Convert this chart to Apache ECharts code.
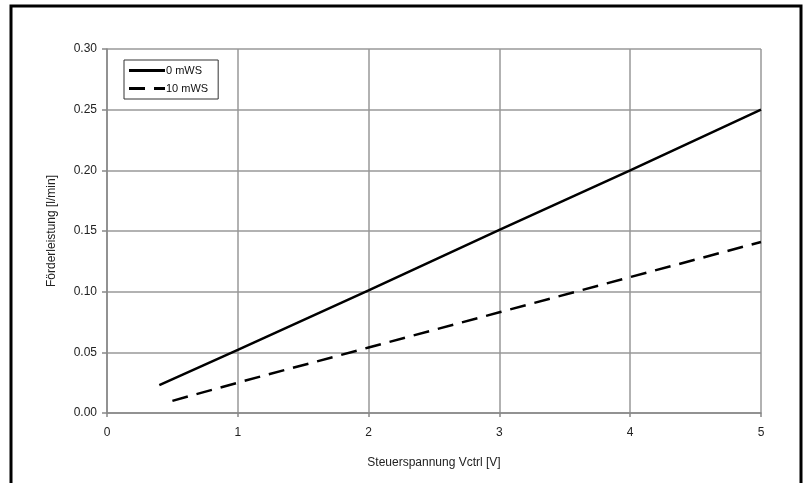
<!DOCTYPE html>
<html>
<head>
<meta charset="utf-8">
<script src="https://cdn.jsdelivr.net/npm/echarts@6/dist/echarts.min.js"></script>
<style>
  html, body { margin: 0; padding: 0; background: #fff; }
  #chart { width: 803px; height: 483px; }
</style>
</head>
<body>
<div id="chart"></div>
<script>
const seriesNames = ["0 mWS", "10 mWS"];
const voltage0 = [0.4, 1, 2, 3, 4, 5];
const flow0 = [0.023, 0.052, 0.101, 0.151, 0.200, 0.250];
const voltage10 = [0.5, 1, 2, 3, 4, 5];
const flow10 = [0.010, 0.025, 0.054, 0.083, 0.112, 0.141];

const pairs = (xs, ys) => xs.map((x, i) => [x, ys[i]]);

const myChart = echarts.init(document.getElementById("chart"));
const font = "Liberation Sans, Arial, sans-serif";

myChart.setOption({
  animation: false,
  grid: { left: 107, right: 42, top: 49, bottom: 70 },
  // Rahmen um das Bild
  graphic: [
    {
      type: "rect",
      shape: { x: 11, y: 6, width: 790, height: 490 },
      style: { fill: "none", stroke: "#000", lineWidth: 3 },
      z: 100,
    },
  ],
  legend: {
    orient: "vertical",
    left: 124,
    top: 60,
    padding: [5, 10, 5, 5],
    itemWidth: 36,
    itemHeight: 3,
    itemGap: 7,
    borderColor: "#333",
    borderWidth: 1,
    backgroundColor: "#fff",
    itemStyle: { color: "#000", borderWidth: 0 },
    textStyle: { fontFamily: font, fontSize: 11, color: "#111", padding: [0, 0, 0, -4] },
    data: [
      { name: seriesNames[0], icon: "path://M0,0H36V3H0Z" },
      { name: seriesNames[1], icon: "path://M0,0H16V3H0ZM25,0H36V3H25Z" },
    ],
  },
  xAxis: {
    type: "value",
    min: 0,
    max: 5,
    interval: 1,
    name: "Steuerspannung Vctrl [V]",
    nameLocation: "middle",
    nameGap: 44,
    nameTextStyle: { fontFamily: font, fontSize: 12, color: "#222" },
    axisLine: { show: true, lineStyle: { color: "#888", width: 1.5 } },
    axisTick: { show: true, length: 4, lineStyle: { color: "#888", width: 1.5 } },
    axisLabel: { margin: 14, fontFamily: font, fontSize: 12, color: "#222" },
    splitLine: { show: true, lineStyle: { color: "#999", width: 1.5 } },
  },
  yAxis: {
    type: "value",
    min: 0,
    max: 0.3,
    interval: 0.05,
    name: "Förderleistung [l/min]",
    nameLocation: "middle",
    nameGap: 49,
    nameTextStyle: { fontFamily: font, fontSize: 12, color: "#222" },
    axisLine: { show: true, lineStyle: { color: "#888", width: 1.5 } },
    axisTick: { show: true, length: 5, lineStyle: { color: "#888", width: 1.5 } },
    axisLabel: {
      margin: 10,
      fontFamily: font,
      fontSize: 12,
      color: "#222",
      formatter: (v) => v.toFixed(2),
    },
    splitLine: { show: true, lineStyle: { color: "#999", width: 1.5 } },
  },
  series: [
    {
      name: seriesNames[0],
      type: "line",
      data: pairs(voltage0, flow0),
      symbol: "none",
      lineStyle: { color: "#000", width: 2.5 },
      itemStyle: { color: "#000" },
    },
    {
      name: seriesNames[1],
      type: "line",
      data: pairs(voltage10, flow10),
      symbol: "none",
      lineStyle: { color: "#000", width: 2.5, type: [16, 9] },
      itemStyle: { color: "#000" },
    },
  ],
});
</script>
</body>
</html>
